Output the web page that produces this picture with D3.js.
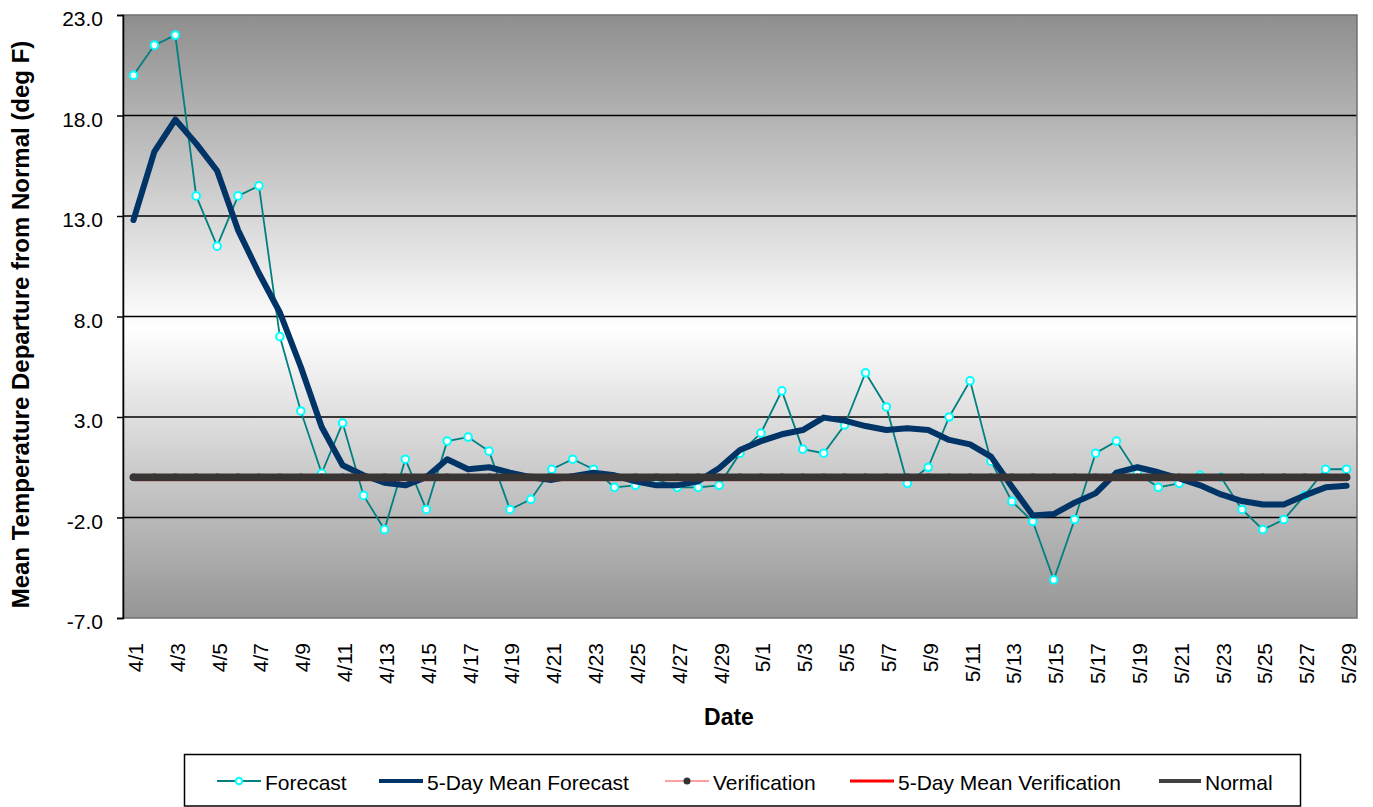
<!DOCTYPE html>
<html><head><meta charset="utf-8">
<script src="https://cdn.jsdelivr.net/npm/d3@7"></script>
<style>
body{margin:0;background:#fff;}
text{font-family:"Liberation Sans",Arial,sans-serif;}
</style></head>
<body><svg id="chart" width="1373" height="807"></svg>
<script>
const dates = ["4/1","4/2","4/3","4/4","4/5","4/6","4/7","4/8","4/9","4/10","4/11","4/12","4/13","4/14","4/15","4/16","4/17","4/18","4/19","4/20","4/21","4/22","4/23","4/24","4/25","4/26","4/27","4/28","4/29","4/30","5/1","5/2","5/3","5/4","5/5","5/6","5/7","5/8","5/9","5/10","5/11","5/12","5/13","5/14","5/15","5/16","5/17","5/18","5/19","5/20","5/21","5/22","5/23","5/24","5/25","5/26","5/27","5/28","5/29"];
const forecast = [20.0,21.5,22.0,14.0,11.5,14.0,14.5,7.0,3.3,0.2,2.7,-0.9,-2.6,0.9,-1.6,1.8,2.0,1.3,-1.6,-1.1,0.4,0.9,0.4,-0.5,-0.4,-0.1,-0.5,-0.5,-0.4,1.2,2.2,4.3,1.4,1.2,2.6,5.2,3.5,-0.3,0.5,3.0,4.8,0.8,-1.2,-2.2,-5.1,-2.1,1.2,1.8,0.2,-0.5,-0.3,0.1,0.0,-1.6,-2.6,-2.1,-0.9,0.4,0.4];
const meanForecast = [12.8,16.2,17.8,16.6,15.25,12.3,10.15,8.2,5.5,2.5,0.6,0.1,-0.27,-0.4,0.0,0.9,0.4,0.5,0.23,0.0,-0.13,0.06,0.23,0.1,-0.2,-0.4,-0.4,-0.2,0.45,1.36,1.8,2.14,2.35,2.97,2.82,2.55,2.35,2.44,2.35,1.86,1.64,1.03,-0.47,-1.9,-1.83,-1.26,-0.8,0.23,0.5,0.25,-0.05,-0.4,-0.85,-1.18,-1.35,-1.35,-0.9,-0.5,-0.42];
const verification = dates.map(() => 0);
const meanVerification = dates.map(() => 0);
const normal = dates.map(() => 0);
const yTicks = [-7,-2,3,8,13,18,23];
const xTickLabels = dates.filter((d,i) => i % 2 === 0);
const seriesNames = ["Forecast","5-Day Mean Forecast","Verification","5-Day Mean Verification","Normal"];

const FONT = "'Liberation Sans',Arial,sans-serif";
const svg = d3.select("#chart");
const L = 123, R = 1357, T = 15, B = 618;
const x = d3.scaleBand().domain(dates).range([L, R]);
const cx = d => x(d) + x.bandwidth()/2;
const y = d3.scaleLinear().domain([-7, 23]).range([B, T]);

// background gradient
const defs = svg.append("defs");
const g = defs.append("linearGradient").attr("id","bg").attr("x1",0).attr("y1",0).attr("x2",0).attr("y2",1);
g.append("stop").attr("offset","0%").attr("stop-color","#8e8e8e");
g.append("stop").attr("offset","52%").attr("stop-color","#ffffff");
g.append("stop").attr("offset","100%").attr("stop-color","#959595");
svg.append("rect").attr("x",L).attr("y",T).attr("width",R-L).attr("height",B-T).attr("fill","url(#bg)");

// gridlines
svg.append("g").selectAll("line").data(yTicks.filter(v => v > -7 && v < 23)).join("line")
  .attr("x1",L).attr("x2",R).attr("y1",d=>y(d)).attr("y2",d=>y(d))
  .attr("stroke","#000").attr("stroke-width",1.5);

// plot border
svg.append("rect").attr("x",L).attr("y",T).attr("width",R-L).attr("height",B-T)
  .attr("fill","none").attr("stroke","#707070").attr("stroke-width",1.5);

// y axis
const ya = svg.append("g").attr("transform",`translate(${L},0)`)
  .call(d3.axisLeft(y).tickValues(yTicks).tickFormat(d => d.toFixed(1)).tickSize(6).tickPadding(14));
ya.select(".domain").attr("stroke","#000").attr("stroke-width",1.5);
ya.selectAll(".tick line").attr("stroke","#000").attr("stroke-width",1.5);
ya.selectAll(".tick text").attr("font-size",21).attr("fill","#000").attr("dy","0.5em")
  .attr("font-family",FONT);

// x axis labels
const xa = svg.append("g").attr("transform",`translate(0,${B})`)
  .call(d3.axisBottom(x).tickValues(xTickLabels).tickSize(0));
xa.select(".domain").remove();
xa.selectAll(".tick text").attr("font-size",21).attr("fill","#000")
  .attr("font-family",FONT)
  .attr("transform","rotate(-90)").attr("text-anchor","end")
  .attr("x",-25).attr("y",0).attr("dy","0.45em");

// axis titles
svg.append("text").attr("transform",`translate(29,${(T+B)/2 + 8}) rotate(-90)`)
  .attr("text-anchor","middle").attr("font-size",24).attr("font-weight","bold")
  .text("Mean Temperature Departure from Normal (deg F)");
svg.append("text").attr("x",729).attr("y",725).attr("text-anchor","middle")
  .attr("font-size",23).attr("font-weight","bold").text("Date");

const line = d3.line().x((d,i) => cx(dates[i])).y(d => y(d));
const plot = svg.append("g");

// Forecast
plot.append("path").datum(forecast).attr("d",line).attr("fill","none").attr("stroke","#008080").attr("stroke-width",1.8);
plot.append("g").selectAll("circle").data(forecast).join("circle")
  .attr("cx",(d,i)=>cx(dates[i])).attr("cy",d=>y(d)).attr("r",3.8)
  .attr("fill","#ffffff").attr("stroke","#00ffff").attr("stroke-width",2);

// 5-Day Mean Forecast
plot.append("path").datum(meanForecast).attr("d",line).attr("fill","none").attr("stroke","#003366")
  .attr("stroke-width",6).attr("stroke-linejoin","round").attr("stroke-linecap","round");

// Verification
plot.append("path").datum(verification).attr("d",line).attr("fill","none").attr("stroke","#ff8080").attr("stroke-width",1.5);
plot.append("g").selectAll("circle").data(verification).join("circle")
  .attr("cx",(d,i)=>cx(dates[i])).attr("cy",d=>y(d)).attr("r",3.8).attr("fill","#333333");

// 5-Day Mean Verification
plot.append("path").datum(meanVerification).attr("d",line).attr("fill","none").attr("stroke","#b02020")
  .attr("stroke-width",5).attr("transform","translate(0,1.5)");

// Normal
plot.append("path").datum(normal).attr("d",line).attr("fill","none").attr("stroke","#383434")
  .attr("stroke-width",7.5).attr("stroke-linecap","round");

// legend
const lg = svg.append("g");
lg.append("rect").attr("x",184.5).attr("y",754.5).attr("width",1116).attr("height",51.5)
  .attr("fill","#fff").attr("stroke","#000").attr("stroke-width",1.5);
const ly = 781;
const items = [
  {x1:217,x2:261,tx:265,label:seriesNames[0],color:"#008080",w:2,marker:"ring"},
  {x1:379,x2:423,tx:427,label:seriesNames[1],color:"#003366",w:4,marker:null},
  {x1:665,x2:709,tx:713,label:seriesNames[2],color:"#ff8080",w:1.5,marker:"dot"},
  {x1:850,x2:894,tx:898,label:seriesNames[3],color:"#ff0000",w:3,marker:null},
  {x1:1159,x2:1201,tx:1205,label:seriesNames[4],color:"#404040",w:4,marker:null}
];
items.forEach(it => {
  lg.append("line").attr("x1",it.x1).attr("x2",it.x2).attr("y1",ly).attr("y2",ly)
    .attr("stroke",it.color).attr("stroke-width",it.w);
  const mx = (it.x1+it.x2)/2;
  if (it.marker === "ring") lg.append("circle").attr("cx",mx).attr("cy",ly).attr("r",3.3)
      .attr("fill","#fff").attr("stroke","#00ffff").attr("stroke-width",2);
  if (it.marker === "dot") lg.append("circle").attr("cx",mx).attr("cy",ly).attr("r",3.5).attr("fill","#333");
  lg.append("text").attr("x",it.tx).attr("y",790).attr("font-size",21).attr("font-family",FONT).text(it.label);
});
</script>
</body></html>
